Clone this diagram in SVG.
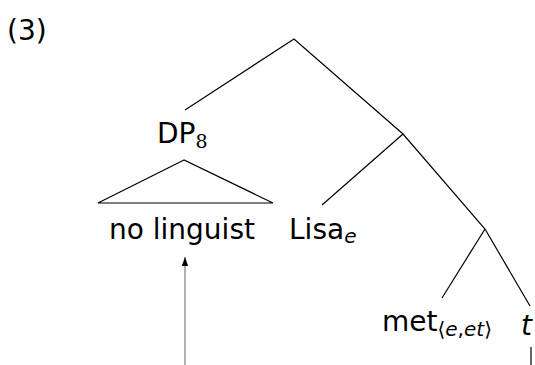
<svg xmlns="http://www.w3.org/2000/svg" width="535" height="365" viewBox="0 0 535 365">
<defs>
<style>
text{font-family:"DejaVu Sans","Open Sans",sans-serif;fill:#000}
.lbl{font-size:28px}
.sub{font-size:20px}
.num{font-family:"DejaVu Serif","Liberation Serif",serif;font-size:19px}
.it{font-style:italic}
.edge{stroke:#000;stroke-width:1.2;fill:none}
</style>
<marker id="ah" viewBox="0 0 10 10" refX="10" refY="5" markerWidth="7" markerHeight="7" orient="auto">
<path d="M0,1.5 L10,5 L0,8.5 z" fill="#000"/>
</marker>
</defs>
<rect width="535" height="365" fill="#fff"/>
<text class="lbl" x="7" y="40">(3)</text>
<g id="connectors">
<path class="edge" d="M185,110 L294,39 L403,134 L485,229 L530,306"/>
<path class="edge" d="M403,134 L322,205"/>
<path class="edge" d="M485,229 L442,298"/>
<path class="edge" d="M184,160 L98,203 L273,203 Z"/>
<path class="edge" d="M531,347 L531,365"/>
<path d="M185,365 L185,257" stroke="#888" stroke-width="1.3" fill="none" marker-end="url(#ah)"/>
</g>
<g id="dp8"><text class="lbl" x="157" y="143">DP<tspan class="num" dy="5">8</tspan></text></g>
<g id="no-linguist"><text class="lbl" x="109" y="239">no linguist</text></g>
<g id="lisa"><text class="lbl" x="289" y="239">Lisa<tspan class="sub it" dy="4">e</tspan></text></g>
<g id="met"><text class="lbl" x="382" y="331">met<tspan class="sub" dy="5">⟨<tspan class="it">e</tspan>,<tspan class="it">et</tspan>⟩</tspan></text></g>
<g id="t"><text class="lbl it" x="521" y="335">t</text></g>
</svg>
